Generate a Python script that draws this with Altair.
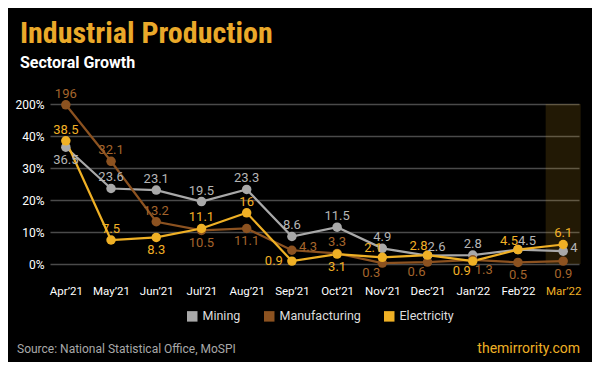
import altair as alt
import pandas as pd

months = ["Apr’21", "May’21", "Jun’21", "Jul’21", "Aug’21", "Sep’21",
          "Oct’21", "Nov’21", "Dec’21", "Jan’22", "Feb’22", "Mar’22"]
series_names = ["Mining", "Manufacturing", "Electricity"]
mining = [36.5, 23.6, 23.1, 19.5, 23.3, 8.6, 11.5, 4.9, 2.6, 2.8, 4.5, 4]
manufacturing = [196, 32.1, 13.2, 10.5, 11.1, 4.3, 3.3, 0.3, 0.6, 1.3, 0.5, 0.9]
electricity = [38.5, 7.5, 8.3, 11.1, 16, 0.9, 3.1, 2.1, 2.8, 0.9, 4.5, 6.1]

# label placement per point: a=above, b=below, l=left, r=right, al/ar/bl/br = diagonals
mining_pos = ["b", "a", "a", "a", "a", "a", "a", "a", "ar", "a", "ar", "r"]
manufacturing_pos = ["a", "a", "a", "b", "b", "r", "a", "bl", "bl", "br", "b", "b"]
electricity_pos = ["a", "a", "b", "a", "a", "l", "b", "al", "al", "bl", "al", "a"]

line_colors = ["#a9a9a9", "#8c5220", "#efb025"]
label_colors = ["#b5b5b5", "#a5652c", "#f2b126"]
highlight_month = "Mar’22"
title_text = "Industrial Production"
subtitle_text = "Sectoral Growth"
source_text = "Source: National Statistical Office, MoSPI"
site_text = "themirrority.com"

# broken axis: 0-40% linear, then one grid step jumps from 40% to 200%
BREAK_LO, BREAK_HI = 40, 200
axis_positions = [0, 10, 20, 30, 40, 50]
scale_expr = (f"datum.value <= {BREAK_LO} ? datum.value : {BREAK_LO} + "
              f"(datum.value - {BREAK_LO}) * 10 / ({BREAK_HI} - {BREAK_LO})")

rows = []
for name, vals, pos, tc in zip(series_names, [mining, manufacturing, electricity],
                               [mining_pos, manufacturing_pos, electricity_pos], label_colors):
    for m, v, p in zip(months, vals, pos):
        rows.append({"month": m, "series": name, "value": v, "pos": p, "tcolor": tc,
                     "label": f"{v:g}"})
df = pd.DataFrame(rows)

W, H = 529, 160
FONT = "Roboto"
XCOND = "Roboto Condensed, Noto Sans Condensed, DejaVu Sans Condensed"

x_axis = alt.Axis(title=None, labelAngle=0, domain=False, ticks=False, grid=False,
                  labelPadding=21, labelFontSize=11.5, labelFont=FONT,
                  labelColor=alt.expr("datum.value == '" + highlight_month + "' ? '#efb025' : '#ffffff'"))
x_scale = alt.Scale(type="point", padding=0.35)
x_enc = alt.X("month:N", sort=months, scale=x_scale, axis=x_axis)

y_scale = alt.Scale(domain=[0, 50], nice=False)
y_axis = alt.Axis(values=axis_positions,
                  labelExpr=f"(datum.value > {BREAK_LO} ? {BREAK_HI} : datum.value) + '%'",
                  title=None, domain=False, ticks=False, gridColor="#4a4a4a",
                  gridWidth=1.5, labelOverlap=False, tickCount=6,
                  labelPadding=6, labelFontSize=12, labelColor="#ffffff", labelFont=FONT)
y_enc = alt.Y("yp:Q", scale=y_scale, axis=y_axis)

color_scale = alt.Scale(domain=series_names, range=line_colors)
legend = alt.Legend(title=None, orient="none", legendX=136, legendY=206, direction="horizontal",
                    symbolType="square", symbolSize=110, symbolStrokeWidth=0,
                    labelColor="#dddddd", labelFontSize=12.5, labelFont=FONT, columnPadding=22,
                    symbolOpacity=1)

hl_df = pd.DataFrame({"month": [highlight_month], "lo": [0], "value": [BREAK_HI]})
highlight = alt.Chart(hl_df).transform_calculate(yp=scale_expr).mark_bar(
    size=35, color="#f0b020", opacity=0.14).encode(
    x=x_enc, y=alt.Y("lo:Q", scale=y_scale, axis=y_axis), y2="yp:Q")

base = alt.Chart(df).transform_calculate(yp=scale_expr)
lines = base.mark_line(strokeWidth=2.2).encode(
    x=x_enc, y=y_enc,
    color=alt.Color("series:N", scale=color_scale, legend=legend, sort=series_names))
points = base.mark_point(filled=True, size=90, opacity=1).encode(
    x=x_enc, y=y_enc,
    color=alt.Color("series:N", scale=color_scale, legend=legend, sort=series_names))

offsets = {
    "a": (0, -11, "center"), "b": (0, 13, "center"),
    "l": (-9, 0, "right"), "r": (7, -3, "left"),
    "al": (-9, -9, "center"), "ar": (9, -9, "center"),
    "bl": (-11, 10, "center"), "br": (11, 10, "center"),
}
text_layers = []
for key, (dx, dy, al) in offsets.items():
    text_layers.append(
        base.transform_filter(alt.datum.pos == key)
        .mark_text(dx=dx, dy=dy, align=al, baseline="middle", fontSize=13, font=FONT)
        .encode(x=x_enc, y=y_enc, text="label:N", color=alt.Color("tcolor:N", scale=None)))

src = alt.Chart(pd.DataFrame({"t": [source_text]})).mark_text(
    align="left", baseline="alphabetic", color="#a8a8a8", fontSize=12, font=FONT).encode(
    x=alt.value(-33), y=alt.value(249), text="t:N")
site = alt.Chart(pd.DataFrame({"t": [site_text]})).mark_text(
    align="right", baseline="alphabetic", color="#efb025", fontSize=14, font=FONT).encode(
    x=alt.value(530), y=alt.value(249), text="t:N")

chart = alt.layer(highlight, lines, points, *text_layers, src, site).properties(
    width=W, height=H,
    autosize=alt.AutoSizeParams(type="none"),
    padding={"left": 42, "top": 96, "right": 13, "bottom": 98},
    background="#000000",
    title=alt.Title(text=title_text, subtitle=subtitle_text, anchor="start", frame="group",
                    dx=-30, offset=17,
                    font=XCOND, fontSize=30, fontWeight="bold", color="#eaa92a",
                    subtitleFont=FONT, subtitleFontSize=16, subtitleFontWeight="bold",
                    subtitleColor="#ffffff", subtitlePadding=6),
).configure_view(stroke=None)

chart.save("out.html", embed_options={"renderer": "svg", "actions": False})
